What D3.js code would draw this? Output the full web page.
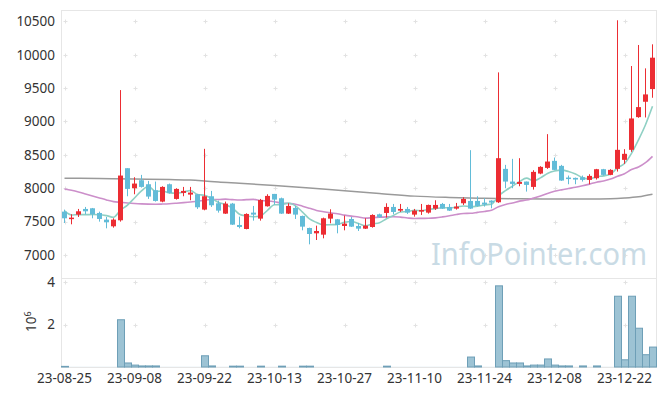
<!DOCTYPE html>
<html>
<head>
<meta charset="utf-8">
<script src="https://cdn.jsdelivr.net/npm/d3@7"></script>
<style>
  body { margin: 0; background: #fff; }
  svg { display: block; font-family: "Noto Sans", sans-serif; }
</style>
</head>
<body>
<div id="chart"></div>
<script>
// trading days
var dates = ['23-08-25','23-08-28','23-08-29','23-08-30','23-08-31','23-09-01','23-09-04','23-09-05','23-09-06','23-09-07',
  '23-09-08','23-09-11','23-09-12','23-09-13','23-09-14','23-09-15','23-09-18','23-09-19','23-09-20','23-09-21',
  '23-09-22','23-09-25','23-09-26','23-09-27','23-10-04','23-10-05','23-10-06','23-10-10','23-10-11','23-10-12',
  '23-10-13','23-10-16','23-10-17','23-10-18','23-10-19','23-10-20','23-10-23','23-10-24','23-10-25','23-10-26',
  '23-10-27','23-10-30','23-10-31','23-11-01','23-11-02','23-11-03','23-11-06','23-11-07','23-11-08','23-11-09',
  '23-11-10','23-11-13','23-11-14','23-11-15','23-11-16','23-11-17','23-11-20','23-11-21','23-11-22','23-11-23',
  '23-11-24','23-11-27','23-11-28','23-11-29','23-11-30','23-12-01','23-12-04','23-12-05','23-12-06','23-12-07',
  '23-12-08','23-12-11','23-12-12','23-12-13','23-12-14','23-12-15','23-12-18','23-12-19','23-12-20','23-12-21',
  '23-12-22','23-12-26','23-12-27','23-12-28','23-12-29'];

var opens = [7650,7540,7605,7690,7700,7630,7530,7430,7520,8300,
  8000,8120,8060,7970,7800,8060,7840,7930,7905,7910,
  7680,7880,7775,7620,7770,7450,7390,7635,7545,7730,
  7915,7850,7620,7705,7585,7405,7325,7305,7545,7535,
  7435,7540,7435,7395,7420,7610,7630,7720,7665,7690,
  7605,7650,7635,7695,7765,7720,7695,7775,7810,7810,
  7785,7815,7790,8290,8100,8065,8100,8020,8220,8305,
  8410,8335,8160,8155,8165,8125,8150,8285,8200,8290,
  8425,8575,9065,9295,9485];
var highs = [7680,7610,7690,7720,7705,7650,7570,7550,9470,8300,
  8165,8200,8110,8100,8030,8070,8000,8020,8020,7915,
  8590,7960,7815,7800,7780,7575,7625,7735,7840,7910,
  7915,7860,7775,7735,7590,7410,7440,7560,7685,7540,
  7590,7570,7480,7550,7610,7620,7775,7765,7765,7720,
  7690,7765,7755,7820,7780,7765,7780,7865,8570,7880,
  7850,7820,9735,8350,8440,8450,8100,8270,8330,8810,
  8460,8350,8190,8160,8190,8210,8290,8290,8285,10515,
  8585,9830,10145,9795,10155];
var lows = [7480,7460,7570,7610,7550,7500,7400,7410,7500,7880,
  7910,8010,7840,7800,7790,7920,7830,7880,7820,7690,
  7670,7720,7635,7615,7450,7400,7385,7515,7515,7725,
  7755,7615,7615,7540,7370,7160,7225,7250,7475,7325,
  7370,7420,7360,7390,7410,7555,7560,7610,7645,7615,
  7575,7600,7620,7675,7690,7660,7680,7750,7690,7725,
  7725,7700,7780,8000,8000,8030,7950,7980,8210,8290,
  8270,8110,8060,8060,8100,8060,8130,8190,8195,8250,
  8365,8545,9055,9060,9355];
var closes = [7550,7560,7655,7655,7610,7540,7490,7530,8190,7990,
  8070,8020,7875,7810,8020,7930,7990,7960,7935,7715,
  7880,7745,7665,7770,7455,7420,7615,7605,7825,7885,
  7830,7620,7735,7605,7425,7315,7360,7550,7620,7450,
  7470,7425,7395,7440,7600,7565,7720,7645,7690,7635,
  7665,7675,7750,7750,7695,7665,7725,7840,7695,7735,
  7755,7785,8450,8100,8065,8095,8050,8245,8320,8400,
  8275,8115,8145,8130,8125,8185,8285,8200,8275,8575,
  8515,9045,9215,9405,9955];
var volumes = [30000,5000,5000,5000,5000,5000,5000,5000,2230000,190000,
  90000,50000,50000,50000,5000,5000,5000,5000,5000,5000,
  530000,50000,5000,5000,40000,40000,5000,5000,40000,5000,
  5000,40000,5000,5000,40000,40000,5000,5000,5000,5000,
  5000,5000,5000,5000,5000,5000,40000,5000,5000,5000,
  5000,5000,5000,5000,5000,5000,5000,5000,470000,50000,
  5000,5000,3830000,300000,190000,190000,50000,90000,90000,380000,
  90000,50000,50000,5000,50000,5000,50000,5000,5000,3340000,
  340000,3340000,1830000,580000,940000];

// moving averages
var ma5 = [7660,7600,7605,7605,7606,7604,7590,7565,7672,7748,
  7854,7960,8029,7953,7959,7931,7925,7942,7967,7906,
  7896,7847,7788,7755,7703,7611,7585,7573,7584,7670,
  7752,7753,7779,7735,7643,7540,7488,7451,7454,7459,
  7490,7503,7472,7436,7466,7485,7544,7594,7644,7651,
  7671,7662,7683,7695,7707,7707,7717,7735,7724,7732,
  7750,7762,7884,7965,8031,8099,8152,8111,8155,8222,
  8258,8271,8251,8213,8158,8140,8174,8185,8214,8304,
  8370,8522,8725,8951,9227];
var ma20 = [7990,7970,7945,7915,7885,7855,7825,7800,7790,7780,
  7772,7766,7762,7760,7763,7768,7776,7785,7795,7805,
  7821,7831,7831,7837,7829,7823,7829,7833,7815,7810,
  7798,7778,7771,7760,7731,7700,7668,7648,7632,7619,
  7598,7582,7569,7552,7560,7567,7572,7574,7567,7555,
  7547,7549,7550,7557,7571,7588,7607,7621,7625,7639,
  7653,7671,7724,7757,7780,7807,7823,7853,7885,7923,
  7954,7976,7995,8014,8036,8062,8090,8108,8137,8179,
  8217,8280,8318,8383,8478];
var ma120Idx = [0,5,10,15,18,20,22,25,30,35,40,45,50,55,60,65,70,75,78,80,82,84];
var ma120 = [8150,8145,8138,8130,8122,8108,8092,8075,8042,8005,7962,7922,7882,7862,7850,7843,7840,7840,7843,7853,7872,7910];

var priceTicks = [7000,7500,8000,8500,9000,9500,10000,10500];
var volumeTicks = [2000000,4000000];
var dateTickIdx = [0,10,20,30,40,50,60,70,80];

(function() {
  var W = 665, H = 396;
  var pLeft = 61, pRight = 656, pTop = 10, pSplit = 278, pBottom = 367;
  var upColor = '#ec2d33', downColor = '#62bcd8';

  var svg = d3.select('#chart').append('svg').attr('width', W).attr('height', H);
  svg.append('rect').attr('width', W).attr('height', H).attr('fill', '#fff');

  var x = d3.scaleBand().domain(d3.range(dates.length)).range([pLeft, pRight]);
  var cx = function(i) { return x(i) + x.bandwidth() / 2; };
  var y = d3.scaleLinear().domain([6656, 10669]).range([pSplit, pTop]);
  var yv = d3.scaleLinear().domain([0, 4200000]).range([pBottom, pSplit]);

  // frame
  var frame = svg.append('g').attr('stroke', '#e6e6e6').attr('stroke-width', 1);
  frame.append('line').attr('x1', pLeft + 0.5).attr('x2', pLeft + 0.5).attr('y1', pTop).attr('y2', pBottom);
  frame.append('line').attr('x1', pRight + 0.5).attr('x2', pRight + 0.5).attr('y1', pTop).attr('y2', pBottom);
  frame.append('line').attr('x1', pLeft).attr('x2', pRight + 1).attr('y1', pTop + 0.5).attr('y2', pTop + 0.5);
  frame.append('line').attr('x1', pLeft).attr('x2', pRight + 1).attr('y1', pSplit + 0.5).attr('y2', pSplit + 0.5);
  frame.append('line').attr('x1', pLeft).attr('x2', pRight + 1).attr('y1', pBottom + 0.5).attr('y2', pBottom + 0.5);

  // little + marks at grid crossings
  var crosses = [];
  dateTickIdx.forEach(function(i) {
    priceTicks.forEach(function(p) { crosses.push([cx(i), y(p)]); });
    volumeTicks.forEach(function(v) { crosses.push([cx(i), yv(v)]); });
  });
  svg.append('g').selectAll('path').data(crosses).enter().append('path')
    .attr('d', function(d) {
      var px = Math.round(d[0]) + 0.5, py = Math.round(d[1]) + 0.5;
      return 'M' + (px - 2) + ',' + py + 'H' + (px + 2) + 'M' + px + ',' + (py - 2) + 'V' + (py + 2);
    })
    .attr('stroke', '#e2e2e2').attr('stroke-width', 1);

  // watermark
  svg.append('text').attr('x', 431).attr('y', 265)
    .attr('textLength', 216).attr('lengthAdjust', 'spacingAndGlyphs')
    .style('font-size', '30px').style('fill', '#c9dbe5')
    .text('InfoPointer.com');

  // moving average lines (behind candles)
  var line = d3.line().x(function(d, i) { return cx(i); }).y(function(d) { return y(d); }).curve(d3.curveMonotoneX);
  svg.append('path').attr('d', d3.line()
      .x(function(d) { return cx(d[0]); }).y(function(d) { return y(d[1]); })
      .curve(d3.curveMonotoneX)(d3.zip(ma120Idx, ma120)))
    .attr('fill', 'none').attr('stroke', '#9a9a9a').attr('stroke-width', 1.5);
  svg.append('path').attr('d', line(ma20))
    .attr('fill', 'none').attr('stroke', '#cc8fca').attr('stroke-width', 1.6);
  svg.append('path').attr('d', line(ma5))
    .attr('fill', 'none').attr('stroke', '#8fd0c4').attr('stroke-width', 1.6);

  // candles
  var colorOf = function(i) { return closes[i] >= opens[i] ? upColor : downColor; };
  var wickX = function(i) { return Math.round(cx(i) - 0.5) + 0.5; };
  var candles = svg.append('g').selectAll('g').data(d3.range(dates.length)).enter().append('g');
  candles.append('line')
    .attr('x1', wickX).attr('x2', wickX)
    .attr('y1', function(i) { return y(highs[i]); })
    .attr('y2', function(i) { return y(lows[i]); })
    .attr('stroke', colorOf).attr('stroke-width', 1);
  candles.append('rect')
    .attr('x', function(i) { return wickX(i) - 2.5; })
    .attr('width', 5)
    .attr('y', function(i) { return y(Math.max(opens[i], closes[i])); })
    .attr('height', function(i) { return Math.max(1.5, Math.abs(y(opens[i]) - y(closes[i]))); })
    .attr('fill', colorOf);

  // volume bars
  svg.append('g').selectAll('rect').data(d3.range(dates.length)).enter().append('rect')
    .attr('x', function(i) { return Math.round(x(i)) + 0.5; })
    .attr('width', function(i) { return Math.round(x(i) + x.bandwidth()) - Math.round(x(i)); })
    .attr('y', function(i) { return yv(volumes[i]); })
    .attr('height', function(i) { return yv(0) - yv(volumes[i]); })
    .attr('fill', '#9dc3d4')
    .attr('stroke', function(i) { return volumes[i] > 20000 ? '#6e9fb7' : 'none'; })
    .attr('stroke-width', 1);

  // axes
  var yAxis = d3.axisLeft(y).tickValues(priceTicks).tickSize(0).tickPadding(6).tickFormat(d3.format('d'));
  var gy = svg.append('g').attr('transform', 'translate(' + pLeft + ',0)').call(yAxis);
  var vAxis = d3.axisLeft(yv).tickValues(volumeTicks).tickSize(0).tickPadding(6)
    .tickFormat(function(d) { return d / 1000000; });
  var gv = svg.append('g').attr('transform', 'translate(' + pLeft + ',0)').call(vAxis);
  var xAxis = d3.axisBottom(x).tickValues(dateTickIdx).tickSize(0).tickPadding(6)
    .tickFormat(function(i) { return dates[i]; });
  var gx = svg.append('g').attr('transform', 'translate(0,' + pBottom + ')').call(xAxis);
  [gy, gv, gx].forEach(function(g) {
    g.select('.domain').remove();
    g.selectAll('text').style('font-family', '"Noto Sans", sans-serif').style('font-size', '13.5px').attr('fill', '#333');
  });

  // 10^6 unit label
  var unit = svg.append('text').attr('transform', 'translate(36,332) rotate(-90)')
    .style('font-size', '13.5px').attr('fill', '#333');
  unit.append('tspan').text('10');
  unit.append('tspan').attr('dy', -5).style('font-size', '9px').text('6');
})();
</script>
</body>
</html>
